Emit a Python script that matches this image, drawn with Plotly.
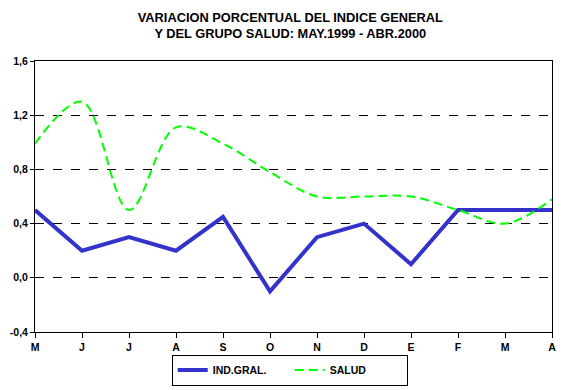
import plotly.graph_objects as go

months = ["M", "J", "J", "A", "S", "O", "N", "D", "E", "F", "M", "A"]
ind_gral = [0.5, 0.2, 0.3, 0.2, 0.45, -0.1, 0.3, 0.4, 0.1, 0.5, 0.5, 0.5]
salud = [0.99, 1.3, 0.5, 1.11, 0.99, 0.78, 0.6, 0.6, 0.6, 0.5, 0.4, 0.58]
y_ticks = [-0.4, 0.0, 0.4, 0.8, 1.2, 1.6]
y_labels = ["-0,4", "0,0", "0,4", "0,8", "1,2", "1,6"]

x = list(range(len(months)))
font = "Liberation Sans, Arial, sans-serif"

fig = go.Figure()
fig.add_trace(go.Scatter(x=x, y=ind_gral, mode="lines", name="<b>IND.GRAL.</b>",
                         line=dict(color="#3333CC", width=4)))
fig.add_trace(go.Scatter(x=x, y=salud, mode="lines", name="<b>SALUD</b>",
                         line=dict(color="#00FF00", width=2, dash="9px,5px",
                                   shape="spline", smoothing=1.0)))

fig.update_layout(
    width=567, height=390,
    margin=dict(l=35, r=15, t=61, b=58, autoexpand=False),
    paper_bgcolor="white", plot_bgcolor="white",
    title=dict(text="<b>VARIACION PORCENTUAL DEL INDICE GENERAL<br>Y DEL GRUPO SALUD: MAY.1999 - ABR.2000</b>",
               x=0.512, xanchor="center", y=0.944, yanchor="top",
               font=dict(family=font, size=12.8, color="black")),
    font=dict(family=font, size=10, color="black"),
    showlegend=True,
    legend=dict(orientation="h", xref="container", yref="container",
                x=0.511, xanchor="center", y=0.051, yanchor="middle",
                bordercolor="black", borderwidth=1, bgcolor="white",
                font=dict(family=font, size=10.5, color="black"),
                entrywidth=72, tracegroupgap=0),
    xaxis=dict(range=[0, 11], tickmode="array", tickvals=x,
               ticktext=["<b>%s</b>" % m for m in months], automargin=False,
               showgrid=False, zeroline=False, showline=True, linecolor="black",
               linewidth=1, mirror=True, ticks="outside", ticklen=5,
               tickcolor="black", tickfont=dict(size=10.5)),
    yaxis=dict(range=[-0.4, 1.6], tickmode="array", tickvals=y_ticks,
               ticktext=["<b>%s</b>" % t for t in y_labels], automargin=False,
               showgrid=True, gridcolor="black", griddash="dash", gridwidth=1,
               zeroline=False, showline=True, linecolor="black", linewidth=1,
               mirror=True, ticks="outside", ticklen=4, tickcolor="black",
               tickfont=dict(size=10.5)),
)

fig.write_html("out.html", config={"displayModeBar": False},
               post_script="document.body.style.margin='0';document.body.style.overflow='hidden';")
